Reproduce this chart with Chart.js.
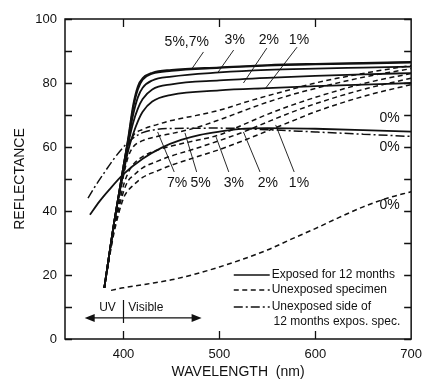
<!DOCTYPE html>
<html>
<head>
<meta charset="utf-8">
<script src="https://cdn.jsdelivr.net/npm/chart.js@4.4.1/dist/chart.umd.min.js"></script>
<style>
  html, body { margin: 0; padding: 0; background: #fff; }
  #wrap { width: 430px; height: 383px; }
</style>
</head>
<body>
<div id="wrap"><canvas id="chart" width="430" height="383"></canvas></div>
<script>
/* ==========================
   Data
   ========================== */
// exposed for 12 months, 1% .. 7%
const wlExposed = [380, 390, 400, 405, 410, 415, 420, 430, 450, 500, 550, 600, 650, 700];
const exposed7 = [16, 36, 54, 63, 73, 79, 81.5, 83.2, 84.1, 84.9, 85.6, 86, 86.3, 86.6];
const exposed5 = [16, 36, 54, 62.5, 72, 78, 81, 82.9, 83.8, 84.7, 85.4, 85.8, 86.1, 86.4];
const exposed3 = [16, 36, 54, 62, 70, 75.5, 78.5, 80.8, 82, 83.3, 84.1, 84.5, 84.8, 85.1];
const exposed2 = [16, 36, 53, 61, 67.5, 72, 75, 78, 79.6, 80.8, 81.6, 82.2, 82.7, 83.1];
const exposed1 = [16, 36, 52, 59, 64, 68, 71, 74.2, 76.3, 77.7, 78.4, 79, 79.5, 80];

// exposed 0%
const wlExposed0 = [365, 375, 385, 400, 420, 440, 460, 480, 500, 520, 550, 600, 650, 700];
const exposed0 = [38.8, 43, 46.6, 51.5, 56.3, 59.8, 62.2, 63.8, 64.8, 65.6, 65.9, 65.7, 65.3, 64.8];

// unexposed specimen, 1% .. 7%
const wlUnexposed = [380, 390, 400, 405, 410, 420, 435, 450, 475, 500, 525, 550, 575, 600, 650, 700];
const unexposed7 = [16, 35, 52, 60, 63.5, 65.5, 67, 68.3, 69.8, 71.5, 73.8, 76, 78, 80, 83, 85.5];
const unexposed5 = [16, 35, 51, 57, 60, 62, 63.3, 64.2, 66, 68.5, 71.3, 74, 76.3, 78.3, 81.8, 84.5];
const unexposed3 = [16, 34, 48, 52, 54.5, 57, 59, 60.3, 62, 63.8, 67, 70.2, 73, 75.5, 79.8, 83];
const unexposed2 = [16, 34, 46, 49.5, 51, 53.5, 55.5, 57.2, 59.5, 62, 64.7, 67.8, 70.8, 73.5, 78, 81.5];
const unexposed1 = [16, 33, 44, 46.5, 48, 50.5, 52.5, 54.3, 56.8, 59.2, 62, 65, 68, 71, 75.8, 79.5];

// unexposed 0%
const wlUnexposed0 = [387, 400, 425, 450, 475, 500, 525, 550, 575, 600, 625, 650, 675, 700];
const unexposed0 = [15.2, 16, 17.2, 18.5, 20.3, 22.5, 25, 27.8, 31.2, 34.5, 38, 41.3, 44, 46];

// unexposed side of 12 months exposed specimen
const wlBackSide = [363, 370, 380, 390, 400, 410, 420, 430, 450, 500, 550, 600, 650, 700];
const backSide = [44, 47.5, 52, 56.3, 60, 62.8, 64.5, 65.3, 65.8, 65.9, 65.4, 64.7, 64, 63.3];

// axes
const xTickValues = [400, 500, 600, 700];
const yTickValues = [0, 20, 40, 60, 80, 100];
const xMinorTicks = [400, 500, 600];
const yMinorTicks = [0, 10, 20, 30, 40, 50, 60, 70, 80, 90, 100];

/* ==========================
   Styles
   ========================== */
const INK = '#111';
const FONT = '"Liberation Sans", Arial, Helvetica, sans-serif';
const SOLID = [];
const DASH = [5, 3.5];
const DASHDOT = [9, 3, 2, 3];

function toPoints(xs, ys) {
  return xs.map((x, i) => ({ x: x, y: ys[i] }));
}

function series(label, xs, ys, dash) {
  return {
    label: label,
    data: toPoints(xs, ys),
    borderColor: INK,
    borderWidth: dash === SOLID ? 1.8 : 1.5,
    borderDash: dash,
    pointRadius: 0,
    fill: false,
    cubicInterpolationMode: 'monotone'
  };
}

const datasets = [
  series('Exposed 7%', wlExposed, exposed7, SOLID),
  series('Exposed 5%', wlExposed, exposed5, SOLID),
  series('Exposed 3%', wlExposed, exposed3, SOLID),
  series('Exposed 2%', wlExposed, exposed2, SOLID),
  series('Exposed 1%', wlExposed, exposed1, SOLID),
  series('Exposed 0%', wlExposed0, exposed0, SOLID),
  series('Unexposed 7%', wlUnexposed, unexposed7, DASH),
  series('Unexposed 5%', wlUnexposed, unexposed5, DASH),
  series('Unexposed 3%', wlUnexposed, unexposed3, DASH),
  series('Unexposed 2%', wlUnexposed, unexposed2, DASH),
  series('Unexposed 1%', wlUnexposed, unexposed1, DASH),
  series('Unexposed 0%', wlUnexposed0, unexposed0, DASH),
  series('Unexposed side', wlBackSide, backSide, DASHDOT)
];

/* ==========================
   Annotations (data coords)
   ========================== */
const curveLabels = [
  { text: '5%,7%', x: 466, y: 92.8 },
  { text: '3%', x: 516, y: 93.4 },
  { text: '2%', x: 551.5, y: 93.4 },
  { text: '1%', x: 583, y: 93.4 },
  { text: '7%', x: 456, y: 48.7 },
  { text: '5%', x: 480.5, y: 48.7 },
  { text: '3%', x: 515, y: 48.7 },
  { text: '2%', x: 550.5, y: 48.7 },
  { text: '1%', x: 583, y: 48.7 },
  { text: '0%', x: 677.5, y: 69.1 },
  { text: '0%', x: 677.5, y: 60 },
  { text: '0%', x: 677.5, y: 41.9 }
];

const leaders = [
  [483.4, 89.7, 471.2, 84.4],
  [514.9, 90.3, 498.7, 83.4],
  [549.5, 90.9, 525.1, 80],
  [581, 91.2, 547.5, 78.1],
  [452.9, 52.2, 435.6, 64.7],
  [476.3, 52.2, 464.1, 64.4],
  [509.8, 52.2, 496.6, 63.1],
  [542.4, 52.2, 525.1, 64.7],
  [578, 52.2, 558.7, 66.9]
];

const legendRows = [
  { dash: SOLID, text: ['Exposed for 12 months'], y: 20 },
  { dash: DASH, text: ['Unexposed specimen'], y: 15.3 },
  { dash: DASHDOT, text: ['Unexposed side of', '12 months expos. spec.'], y: 10 }
];

/* ==========================
   Plugin: frame, inward ticks, labels
   ========================== */
const decorations = {
  id: 'decorations',
  afterDatasetsDraw(chart) {
    const ctx = chart.ctx;
    const xs = chart.scales.x;
    const ys = chart.scales.y;
    const a = chart.chartArea;
    const px = v => xs.getPixelForValue(v);
    const py = v => ys.getPixelForValue(v);

    ctx.save();
    ctx.strokeStyle = INK;
    ctx.fillStyle = INK;
    ctx.setLineDash([]);

    // frame
    ctx.lineWidth = 1.5;
    ctx.strokeRect(a.left, a.top, a.right - a.left, a.bottom - a.top);

    // inward ticks
    ctx.lineWidth = 1.3;
    ctx.beginPath();
    yMinorTicks.forEach(v => {
      const y = Math.round(py(v)) + 0.5;
      ctx.moveTo(a.left, y); ctx.lineTo(a.left + 7, y);
      ctx.moveTo(a.right, y); ctx.lineTo(a.right - 7, y);
    });
    xMinorTicks.forEach(v => {
      const x = Math.round(px(v)) + 0.5;
      ctx.moveTo(x, a.bottom); ctx.lineTo(x, a.bottom - 8);
      ctx.moveTo(x, a.top); ctx.lineTo(x, a.top + 8);
    });
    ctx.stroke();

    // leader lines
    ctx.lineWidth = 0.9;
    ctx.beginPath();
    leaders.forEach(l => {
      ctx.moveTo(px(l[0]), py(l[1]));
      ctx.lineTo(px(l[2]), py(l[3]));
    });
    ctx.stroke();

    // curve labels
    ctx.font = '14px ' + FONT;
    ctx.textAlign = 'center';
    ctx.textBaseline = 'middle';
    curveLabels.forEach(c => ctx.fillText(c.text, px(c.x), py(c.y)));

    // UV / Visible arrow
    const ay = py(6.6);
    const ax0 = px(359.5), ax1 = px(481.5);
    ctx.lineWidth = 1.2;
    ctx.beginPath();
    ctx.moveTo(ax0 + 6, ay); ctx.lineTo(ax1 - 6, ay);
    ctx.moveTo(px(400), py(12.2)); ctx.lineTo(px(400), py(5));
    ctx.stroke();
    [[ax0, 1], [ax1, -1]].forEach(([x, d]) => {
      ctx.beginPath();
      ctx.moveTo(x, ay);
      ctx.lineTo(x + d * 10, ay - 4);
      ctx.lineTo(x + d * 10, ay + 4);
      ctx.closePath();
      ctx.fill();
    });
    ctx.font = '12px ' + FONT;
    ctx.textAlign = 'right';
    ctx.fillText('UV', px(392), py(9.7));
    ctx.textAlign = 'left';
    ctx.fillText('Visible', px(405), py(9.7));

    // legend
    ctx.font = '12px ' + FONT;
    legendRows.forEach(r => {
      const y = py(r.y);
      ctx.lineWidth = 1.4;
      ctx.setLineDash(r.dash);
      ctx.beginPath();
      ctx.moveTo(px(515), y); ctx.lineTo(px(552.5), y);
      ctx.stroke();
      ctx.setLineDash([]);
      r.text.forEach((t, i) => {
        ctx.fillText(t, px(i === 0 ? 554.5 : 556.5), y + i * 15);
      });
    });

    ctx.restore();
  }
};

/* ==========================
   Chart
   ========================== */
function init() {
  const ctx = document.getElementById('chart');
  new Chart(ctx, {
    type: 'line',
    data: { datasets: datasets },
    options: {
      responsive: false,
      animation: false,
      devicePixelRatio: 1,
      layout: { padding: { left: 0, right: 10, top: 19, bottom: 0 } },
      plugins: {
        legend: { display: false },
        tooltip: { enabled: false }
      },
      scales: {
        x: {
          type: 'linear',
          min: 339,
          max: 700,
          afterBuildTicks: s => { s.ticks = xTickValues.map(v => ({ value: v })); },
          afterFit: s => { s.height = 44; },
          grid: { display: false, drawTicks: false },
          border: { display: false },
          ticks: { padding: 8, color: INK, font: { family: FONT, size: 13 }, maxRotation: 0, autoSkip: false },
          title: { display: true, text: 'WAVELENGTH  (nm)', color: INK, font: { family: FONT, size: 14 }, padding: { top: 0, bottom: 2 } }
        },
        y: {
          min: 0,
          max: 100,
          afterBuildTicks: s => { s.ticks = yTickValues.map(v => ({ value: v })); },
          afterFit: s => { s.width = 65; },
          grid: { display: false, drawTicks: false },
          border: { display: false },
          ticks: { padding: 8, color: INK, font: { family: FONT, size: 13 } },
          title: { display: true, text: 'REFLECTANCE', color: INK, font: { family: FONT, size: 14 }, padding: { top: 12, bottom: 0 } }
        }
      }
    },
    plugins: [decorations]
  });
}

if (document.readyState === 'loading') {
  document.addEventListener('DOMContentLoaded', init);
} else {
  init();
}
</script>
</body>
</html>
